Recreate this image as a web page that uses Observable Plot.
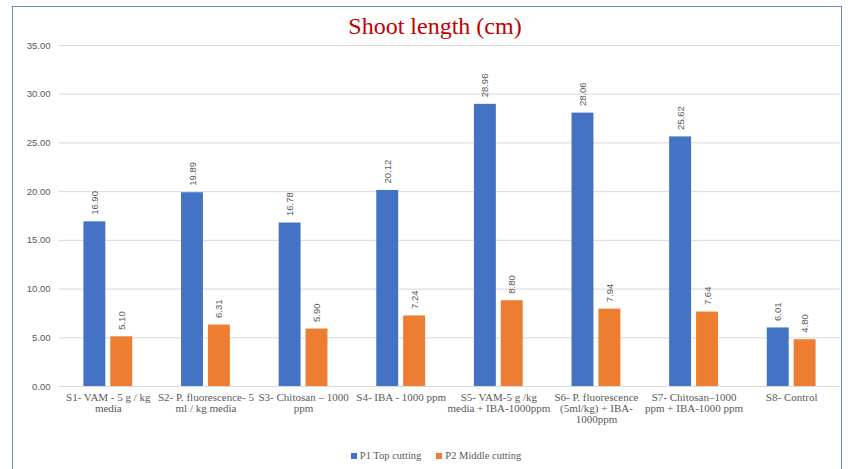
<!DOCTYPE html>
<html>
<head>
<meta charset="utf-8">
<script src="https://cdn.jsdelivr.net/npm/d3@7"></script>
<script src="https://cdn.jsdelivr.net/npm/@observablehq/plot@0.6"></script>
<style>
  html, body { margin: 0; padding: 0; background: #fff; }
  #wrap { position: relative; width: 852px; height: 469px; overflow: hidden; background: #fff; }
  #frame { position: absolute; left: 12px; top: 6px; width: 830px; height: 480px; border: 1.5px solid #6d8cc6; box-sizing: border-box; }
  #title { position: absolute; left: 9px; width: 852px; top: 13px; text-align: center; font-family: "Liberation Serif", serif; font-size: 24px; color: #C00000; }
  #grid, #chart { position: absolute; left: 0; top: 0; }
  #legend { position: absolute; top: 450px; left: 10px; width: 852px; display: flex; justify-content: center; gap: 15px; font-family: "Liberation Serif", serif; font-size: 10.5px; color: #595959; }
  .item { display: flex; align-items: center; gap: 3px; }
  .sw { width: 6px; height: 6px; display: inline-block; }
</style>
</head>
<body>
<div id="wrap">
  <div id="frame"></div>
  <div id="title">Shoot length (cm)</div>
  <div id="grid"></div>
  <div id="chart"></div>
  <div id="legend"></div>
</div>
<script>
const categories = ["S1", "S2", "S3", "S4", "S5", "S6", "S7", "S8"];
const categoryLabels = [
  "S1- VAM - 5 g / kg\nmedia",
  "S2- P. fluorescence- 5\nml / kg media",
  "S3- Chitosan – 1000\nppm",
  "S4- IBA - 1000 ppm",
  "S5- VAM-5 g /kg\nmedia + IBA-1000ppm",
  "S6- P. fluorescence\n(5ml/kg) + IBA-\n1000ppm",
  "S7- Chitosan–1000\nppm + IBA-1000 ppm",
  "S8- Control"
];
const seriesNames = ["P1 Top cutting", "P2 Middle cutting"];
const seriesColors = ["#4472C4", "#ED7D31"];
const p1Top = [16.90, 19.89, 16.78, 20.12, 28.96, 28.06, 25.62, 6.01];
const p2Middle = [5.10, 6.31, 5.90, 7.24, 8.80, 7.94, 7.64, 4.80];
const yTicks = [0, 5, 10, 15, 20, 25, 30, 35];

const rows = [];
categories.forEach((c, i) => {
  rows.push({cat: c, series: seriesNames[0], value: p1Top[i]});
  rows.push({cat: c, series: seriesNames[1], value: p2Middle[i]});
});
const labelOf = new Map(categories.map((c, i) => [c, categoryLabels[i]]));

const common = {
  width: 852,
  height: 440,
  marginLeft: 59,
  marginRight: 12,
  marginTop: 45,
  marginBottom: 54,
  style: {background: "transparent", overflow: "visible"},
  y: {domain: [0, 35], label: null}
};

// gridlines and y axis, spanning the whole plot width
const grid = Plot.plot({
  ...common,
  marks: [
    Plot.ruleY(yTicks, {stroke: "#d9d9d9", strokeWidth: 1}),
    Plot.axisY(yTicks, {tickFormat: d => d.toFixed(2), tickSize: 0, tickPadding: 9, fontSize: 9.5, fill: "#595959", fontFamily: "Liberation Sans, sans-serif", label: null})
  ]
});
document.getElementById("grid").appendChild(grid);

// grouped bars
const chart = Plot.plot({
  ...common,
  fx: {domain: categories, paddingInner: 0.5, paddingOuter: 0.25, round: false, label: null},
  x: {domain: seriesNames, paddingInner: 0.185, paddingOuter: 0, round: false, axis: null},
  color: {domain: seriesNames, range: seriesColors},
  marks: [
    Plot.axisY({ticks: [], label: null, tickSize: 0}),
    Plot.axisFx({anchor: "bottom", tickSize: 0, tickPadding: 7, lineAnchor: "top", fontSize: 11, fontFamily: "Liberation Serif, serif", fill: "#595959", tickFormat: c => labelOf.get(c), label: null}),
    Plot.barY(rows, {fx: "cat", x: "series", y: "value", fill: "series"}),
    Plot.text(rows, {fx: "cat", x: "series", y: "value", text: d => d.value.toFixed(2), rotate: -90, textAnchor: "start", dy: -7, fontSize: 9.5, fill: "#595959", fontFamily: "Liberation Sans, sans-serif"})
  ]
});
document.getElementById("chart").appendChild(chart);

const legend = document.getElementById("legend");
seriesNames.forEach((s, i) => {
  const item = document.createElement("span");
  item.className = "item";
  const sw = document.createElement("span");
  sw.className = "sw";
  sw.style.background = seriesColors[i];
  item.appendChild(sw);
  item.appendChild(document.createTextNode(s));
  legend.appendChild(item);
});
</script>
</body>
</html>
